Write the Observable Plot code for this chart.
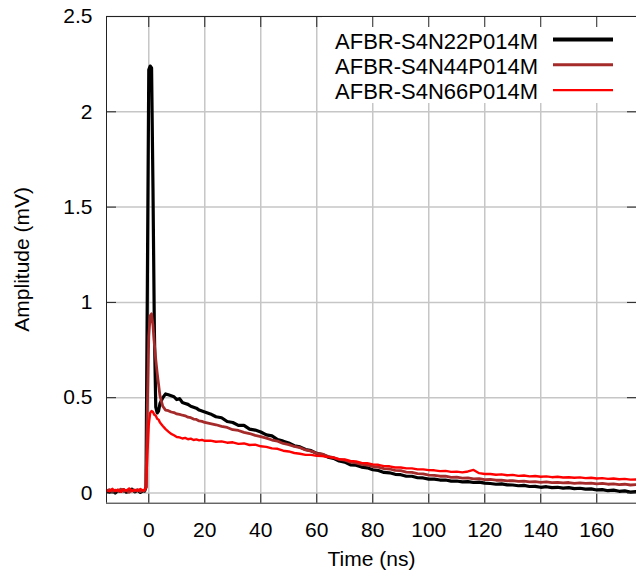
<!DOCTYPE html>
<html><head><meta charset="utf-8">
<script src="https://cdn.jsdelivr.net/npm/d3@7"></script>
<script src="https://cdn.jsdelivr.net/npm/@observablehq/plot@0.6"></script>
<style>body{margin:0;background:#fff;}</style>
</head><body><div id="chart"></div>
<script>
// Time axis (ns)
const time = [-15,-14,-13,-12,-11,-10,-9,-8,-7,-6,-5,-4,-3,-2,
  -1.5,-1,-0.5,0,0.5,1,1.5,2,2.5,3,3.5,4,
  5,6,7,8,9,10,11,12,13,14,15,16,17,18,19,20,
  22,24,26,28,30,32,34,36,38,40,42,44,46,48,50,52,54,56,58,60,
  62,64,66,68,70,72,74,76,78,80,82,84,86,88,90,92,94,96,98,100,
  102,104,106,108,110,112,114,116,118,120,122,124,126,128,130,132,134,136,138,140,
  142,144,146,148,150,152,154,156,158,160,162,164,166,168,170,172,174];

// Amplitude (mV)
const s22 = [0.01,0.005,0.015,0.0,0.012,0.008,0.018,0.004,0.01,0.02,0.006,0.014,0.003,0.012,
  0.01,0.03,1.1,2.22,2.24,2.23,1.6,0.85,0.45,0.42,0.43,0.47,
  0.50,0.52,0.515,0.51,0.505,0.49,0.495,0.475,0.47,0.465,0.455,0.45,0.445,0.435,0.43,0.425,
  0.415,0.40,0.395,0.375,0.37,0.355,0.355,0.335,0.33,0.32,
  0.305,0.30,0.28,0.272,0.262,0.248,0.242,0.228,0.222,0.208,
  0.202,0.188,0.182,0.168,0.162,0.148,0.146,0.136,0.132,0.122,
  0.118,0.108,0.106,0.098,0.096,0.088,0.088,0.08,0.079,0.073,
  0.073,0.068,0.068,0.062,0.063,0.058,0.06,0.055,0.057,0.052,
  0.05,0.046,0.048,0.043,0.042,0.038,0.04,0.034,0.035,0.03,
  0.033,0.028,0.03,0.026,0.028,0.023,0.025,0.02,0.022,0.016,
  0.018,0.012,0.015,0.009,0.011,0.005,0.008];

const s44 = [0.012,0.018,0.006,0.015,0.01,0.02,0.008,0.014,0.004,0.016,0.01,0.018,0.008,0.014,
  0.012,0.03,0.45,0.82,0.93,0.94,0.88,0.78,0.70,0.63,0.57,0.51,
  0.455,0.435,0.432,0.425,0.422,0.415,0.412,0.408,0.405,0.398,0.395,0.388,0.386,0.378,0.376,0.37,
  0.364,0.358,0.35,0.344,0.332,0.328,0.318,0.312,0.302,0.296,
  0.288,0.278,0.272,0.26,0.254,0.244,0.238,0.226,0.22,0.208,
  0.204,0.192,0.186,0.176,0.172,0.162,0.158,0.15,0.147,0.139,
  0.136,0.128,0.126,0.119,0.117,0.11,0.108,0.102,0.1,0.094,
  0.093,0.088,0.088,0.082,0.083,0.078,0.079,0.074,0.075,0.07,
  0.071,0.067,0.068,0.064,0.065,0.061,0.062,0.058,0.06,0.056,
  0.058,0.054,0.056,0.053,0.055,0.051,0.053,0.05,0.052,0.048,
  0.05,0.046,0.048,0.044,0.046,0.042,0.044];

const s66 = [0.015,0.008,0.022,0.01,0.018,0.006,0.02,0.012,0.024,0.009,0.017,0.011,0.021,0.013,
  0.016,0.03,0.2,0.36,0.42,0.43,0.425,0.41,0.405,0.39,0.385,0.37,
  0.352,0.335,0.322,0.31,0.303,0.294,0.292,0.286,0.289,0.282,0.285,0.278,0.281,0.276,0.279,0.274,
  0.275,0.269,0.271,0.264,0.266,0.258,0.26,0.252,0.254,0.245,
  0.242,0.234,0.232,0.222,0.218,0.21,0.206,0.2,0.2,0.195,
  0.194,0.188,0.186,0.178,0.176,0.168,0.166,0.158,0.156,0.15,
  0.148,0.141,0.14,0.134,0.134,0.129,0.129,0.124,0.124,0.12,
  0.119,0.115,0.116,0.111,0.112,0.108,0.113,0.121,0.104,0.1,
  0.1,0.096,0.098,0.093,0.095,0.09,0.092,0.087,0.089,0.085,
  0.087,0.083,0.085,0.081,0.083,0.08,0.082,0.078,0.08,0.076,
  0.078,0.074,0.076,0.072,0.074,0.07,0.071];

const seriesNames = ["AFBR-S4N22P014M", "AFBR-S4N44P014M", "AFBR-S4N66P014M"];
const seriesValues = [s22, s44, s66];
const xTicks = [0, 20, 40, 60, 80, 100, 120, 140, 160];
const yTicks = [0, 0.5, 1, 1.5, 2, 2.5];
const xDomain = [-15.1, 174.2];
const yDomain = [-0.0535, 2.5];
const xTitle = "Time (ns)";
const yTitle = "Amplitude (mV)";

const colors = ["#000000", "#a52a2a", "#ff0000"];
const widths = [3.2, 2.8, 2.4];
const legendWidths = [4, 3, 2.3];
const gridColor = "#c6c6c6";
const axisColor = "#222";

function legend(index, scales, values, dims) {
  const g = d3.create("svg:g");
  const W = dims.width, T = dims.marginTop;
  g.append("rect").attr("x", W - 314).attr("y", T + 1).attr("width", 314).attr("height", 86).attr("fill", "white");
  seriesNames.forEach((n, i) => {
    const cy = T + 23.5 + 25.3 * i;
    g.append("text").attr("x", W - 98).attr("y", cy + 9).attr("text-anchor", "end")
      .attr("font-size", 22).attr("fill", "black").text(n);
    g.append("line").attr("x1", W - 83).attr("x2", W - 23).attr("y1", cy).attr("y2", cy)
      .attr("stroke", colors[i]).attr("stroke-width", legendWidths[i]);
  });
  return g.node();
}

function yAxisTitle(index, scales, values, dims) {
  const cy = (dims.marginTop + dims.height - dims.marginBottom) / 2;
  const t = d3.create("svg:text")
    .attr("transform", `translate(29,${cy}) rotate(-90)`)
    .attr("text-anchor", "middle").attr("font-size", 21).attr("fill", "black").text(yTitle);
  return t.node();
}

const chart = Plot.plot({
  width: 636,
  height: 579,
  marginLeft: 106,
  marginRight: 0,
  marginTop: 16,
  marginBottom: 76.3,
  style: {fontFamily: "'Liberation Sans', Arial, sans-serif", fontSize: "21px", color: "black", background: "white"},
  x: {domain: xDomain},
  y: {domain: yDomain},
  marks: [
    Plot.gridX({ticks: xTicks, stroke: gridColor, strokeOpacity: 1, strokeWidth: 1.5}),
    Plot.gridY({ticks: yTicks, stroke: gridColor, strokeOpacity: 1, strokeWidth: 1.5}),
    legend,
    ...seriesNames.map((n, i) => Plot.line(time, {
      x: time, y: seriesValues[i], stroke: colors[i], strokeWidth: widths[i], clip: true
    })),
    Plot.ruleX([xDomain[0]], {stroke: axisColor, strokeWidth: 1}),
    Plot.ruleY(yDomain, {stroke: axisColor, strokeWidth: 1}),
    // inward ticks
    Plot.axisY({ticks: yTicks, anchor: "left", tickSize: 10, dx: 10, fill: "none", stroke: axisColor, label: null}),
    Plot.axisY({ticks: yTicks, anchor: "right", tickSize: 10, dx: -10, fill: "none", stroke: axisColor, label: null}),
    Plot.axisX({ticks: xTicks, anchor: "bottom", tickSize: 9, dy: -9, fill: "none", stroke: axisColor, label: null}),
    Plot.axisX({ticks: xTicks, anchor: "top", tickSize: 10, dy: 10, fill: "none", stroke: axisColor, label: null}),
    // tick labels
    Plot.axisY({ticks: yTicks, anchor: "left", tickSize: 0, tickPadding: 14, fontSize: 21, label: null, tickFormat: d => String(d)}),
    Plot.axisX({ticks: xTicks, anchor: "bottom", tickSize: 0, tickPadding: 18.4, fontSize: 21, label: null, tickFormat: d => String(d)}),
    // axis titles
    Plot.text([xTitle], {frameAnchor: "bottom", dy: 62.3, fontSize: 21, fill: "black"}),
    yAxisTitle
  ]
});
document.getElementById("chart").appendChild(chart);
</script>
</body></html>
